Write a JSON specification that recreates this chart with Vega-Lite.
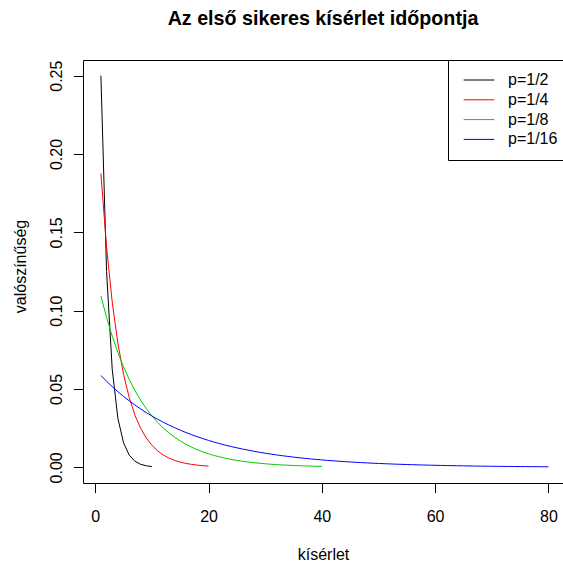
{
  "$schema": "https://vega.github.io/schema/vega-lite/v6.json",
  "autosize": {"type": "none"},
  "width": 480,
  "height": 423,
  "padding": {"left": 83, "top": 60, "right": 0, "bottom": 80},
  "background": "white",
  "config": {
    "font": "Liberation Sans",
    "view": {"stroke": "#000000", "strokeWidth": 1},
    "axis": {"grid": false, "domain": false, "tickColor": "#000000", "tickWidth": 1, "tickSize": 9.6, "labelFont": "Liberation Sans", "labelFontSize": 16, "labelColor": "#000000", "titleFont": "Liberation Sans", "titleFontSize": 16, "titleFontWeight": "normal", "titleColor": "#000000"}
  },
  "title": {"text": "Az első sikeres kísérlet időpontja", "font": "Liberation Sans", "fontSize": 19.7, "fontWeight": "bold", "color": "#000000", "anchor": "middle", "frame": "group", "baseline": "alphabetic", "offset": 14.5},
  "datasets": {
    "geo": [
      {"x":1,"y":0.25,"p":"p=1/2"},{"x":2,"y":0.125,"p":"p=1/2"},{"x":3,"y":0.0625,"p":"p=1/2"},{"x":4,"y":0.03125,"p":"p=1/2"},{"x":5,"y":0.015625,"p":"p=1/2"},{"x":6,"y":0.0078125,"p":"p=1/2"},{"x":7,"y":0.00390625,"p":"p=1/2"},{"x":8,"y":0.001953,"p":"p=1/2"},{"x":9,"y":0.000977,"p":"p=1/2"},{"x":10,"y":0.000488,"p":"p=1/2"},
      {"x":1,"y":0.1875,"p":"p=1/4"},{"x":2,"y":0.140625,"p":"p=1/4"},{"x":3,"y":0.10547,"p":"p=1/4"},{"x":4,"y":0.079102,"p":"p=1/4"},{"x":5,"y":0.059326,"p":"p=1/4"},{"x":6,"y":0.044495,"p":"p=1/4"},{"x":7,"y":0.033371,"p":"p=1/4"},{"x":8,"y":0.025028,"p":"p=1/4"},{"x":9,"y":0.018771,"p":"p=1/4"},{"x":10,"y":0.014078,"p":"p=1/4"},{"x":11,"y":0.010559,"p":"p=1/4"},{"x":12,"y":0.007919,"p":"p=1/4"},{"x":13,"y":0.005939,"p":"p=1/4"},{"x":14,"y":0.004454,"p":"p=1/4"},{"x":15,"y":0.003341,"p":"p=1/4"},{"x":16,"y":0.002506,"p":"p=1/4"},{"x":17,"y":0.001879,"p":"p=1/4"},{"x":18,"y":0.001409,"p":"p=1/4"},{"x":19,"y":0.001057,"p":"p=1/4"},{"x":20,"y":0.000793,"p":"p=1/4"},
      {"x":1,"y":0.109375,"p":"p=1/8"},{"x":2,"y":0.095703,"p":"p=1/8"},{"x":3,"y":0.08374,"p":"p=1/8"},{"x":4,"y":0.073273,"p":"p=1/8"},{"x":5,"y":0.064114,"p":"p=1/8"},{"x":6,"y":0.056099,"p":"p=1/8"},{"x":7,"y":0.049087,"p":"p=1/8"},{"x":8,"y":0.042951,"p":"p=1/8"},{"x":9,"y":0.037582,"p":"p=1/8"},{"x":10,"y":0.032884,"p":"p=1/8"},{"x":11,"y":0.028774,"p":"p=1/8"},{"x":12,"y":0.025177,"p":"p=1/8"},{"x":13,"y":0.02203,"p":"p=1/8"},{"x":14,"y":0.019276,"p":"p=1/8"},{"x":15,"y":0.016867,"p":"p=1/8"},{"x":16,"y":0.014758,"p":"p=1/8"},{"x":17,"y":0.012914,"p":"p=1/8"},{"x":18,"y":0.011299,"p":"p=1/8"},{"x":19,"y":0.009887,"p":"p=1/8"},{"x":20,"y":0.008651,"p":"p=1/8"},{"x":21,"y":0.00757,"p":"p=1/8"},{"x":22,"y":0.006623,"p":"p=1/8"},{"x":23,"y":0.005796,"p":"p=1/8"},{"x":24,"y":0.005071,"p":"p=1/8"},{"x":25,"y":0.004437,"p":"p=1/8"},{"x":26,"y":0.003883,"p":"p=1/8"},{"x":27,"y":0.003397,"p":"p=1/8"},{"x":28,"y":0.002973,"p":"p=1/8"},{"x":29,"y":0.002601,"p":"p=1/8"},{"x":30,"y":0.002276,"p":"p=1/8"},{"x":31,"y":0.001991,"p":"p=1/8"},{"x":32,"y":0.001742,"p":"p=1/8"},{"x":33,"y":0.001525,"p":"p=1/8"},{"x":34,"y":0.001334,"p":"p=1/8"},{"x":35,"y":0.001167,"p":"p=1/8"},{"x":36,"y":0.001021,"p":"p=1/8"},{"x":37,"y":0.000894,"p":"p=1/8"},{"x":38,"y":0.000782,"p":"p=1/8"},{"x":39,"y":0.000684,"p":"p=1/8"},{"x":40,"y":0.000599,"p":"p=1/8"},
      {"x":1,"y":0.058594,"p":"p=1/16"},{"x":2,"y":0.054932,"p":"p=1/16"},{"x":3,"y":0.051498,"p":"p=1/16"},{"x":4,"y":0.04828,"p":"p=1/16"},{"x":5,"y":0.045262,"p":"p=1/16"},{"x":6,"y":0.042433,"p":"p=1/16"},{"x":7,"y":0.039781,"p":"p=1/16"},{"x":8,"y":0.037295,"p":"p=1/16"},{"x":9,"y":0.034964,"p":"p=1/16"},{"x":10,"y":0.032779,"p":"p=1/16"},{"x":11,"y":0.03073,"p":"p=1/16"},{"x":12,"y":0.02881,"p":"p=1/16"},{"x":13,"y":0.027009,"p":"p=1/16"},{"x":14,"y":0.025321,"p":"p=1/16"},{"x":15,"y":0.023738,"p":"p=1/16"},{"x":16,"y":0.022255,"p":"p=1/16"},{"x":17,"y":0.020864,"p":"p=1/16"},{"x":18,"y":0.01956,"p":"p=1/16"},{"x":19,"y":0.018337,"p":"p=1/16"},{"x":20,"y":0.017191,"p":"p=1/16"},{"x":21,"y":0.016117,"p":"p=1/16"},{"x":22,"y":0.01511,"p":"p=1/16"},{"x":23,"y":0.014165,"p":"p=1/16"},{"x":24,"y":0.01328,"p":"p=1/16"},{"x":25,"y":0.01245,"p":"p=1/16"},{"x":26,"y":0.011672,"p":"p=1/16"},{"x":27,"y":0.010942,"p":"p=1/16"},{"x":28,"y":0.010258,"p":"p=1/16"},{"x":29,"y":0.009617,"p":"p=1/16"},{"x":30,"y":0.009016,"p":"p=1/16"},{"x":31,"y":0.008453,"p":"p=1/16"},{"x":32,"y":0.007924,"p":"p=1/16"},{"x":33,"y":0.007429,"p":"p=1/16"},{"x":34,"y":0.006965,"p":"p=1/16"},{"x":35,"y":0.00653,"p":"p=1/16"},{"x":36,"y":0.006121,"p":"p=1/16"},{"x":37,"y":0.005739,"p":"p=1/16"},{"x":38,"y":0.00538,"p":"p=1/16"},{"x":39,"y":0.005044,"p":"p=1/16"},{"x":40,"y":0.004729,"p":"p=1/16"},{"x":41,"y":0.004433,"p":"p=1/16"},{"x":42,"y":0.004156,"p":"p=1/16"},{"x":43,"y":0.003896,"p":"p=1/16"},{"x":44,"y":0.003653,"p":"p=1/16"},{"x":45,"y":0.003424,"p":"p=1/16"},{"x":46,"y":0.00321,"p":"p=1/16"},{"x":47,"y":0.00301,"p":"p=1/16"},{"x":48,"y":0.002822,"p":"p=1/16"},{"x":49,"y":0.002645,"p":"p=1/16"},{"x":50,"y":0.00248,"p":"p=1/16"},{"x":51,"y":0.002325,"p":"p=1/16"},{"x":52,"y":0.00218,"p":"p=1/16"},{"x":53,"y":0.002043,"p":"p=1/16"},{"x":54,"y":0.001916,"p":"p=1/16"},{"x":55,"y":0.001796,"p":"p=1/16"},{"x":56,"y":0.001684,"p":"p=1/16"},{"x":57,"y":0.001578,"p":"p=1/16"},{"x":58,"y":0.00148,"p":"p=1/16"},{"x":59,"y":0.001387,"p":"p=1/16"},{"x":60,"y":0.001301,"p":"p=1/16"},{"x":61,"y":0.001219,"p":"p=1/16"},{"x":62,"y":0.001143,"p":"p=1/16"},{"x":63,"y":0.001072,"p":"p=1/16"},{"x":64,"y":0.001005,"p":"p=1/16"},{"x":65,"y":0.000942,"p":"p=1/16"},{"x":66,"y":0.000883,"p":"p=1/16"},{"x":67,"y":0.000828,"p":"p=1/16"},{"x":68,"y":0.000776,"p":"p=1/16"},{"x":69,"y":0.000728,"p":"p=1/16"},{"x":70,"y":0.000682,"p":"p=1/16"},{"x":71,"y":0.000639,"p":"p=1/16"},{"x":72,"y":0.0006,"p":"p=1/16"},{"x":73,"y":0.000562,"p":"p=1/16"},{"x":74,"y":0.000527,"p":"p=1/16"},{"x":75,"y":0.000494,"p":"p=1/16"},{"x":76,"y":0.000463,"p":"p=1/16"},{"x":77,"y":0.000434,"p":"p=1/16"},{"x":78,"y":0.000407,"p":"p=1/16"},{"x":79,"y":0.000382,"p":"p=1/16"},{"x":80,"y":0.000358,"p":"p=1/16"}
    ]
  },
  "data": {"name": "geo"},
  "mark": {"type": "line", "strokeWidth": 1, "clip": true},
  "encoding": {
    "x": {"field": "x", "type": "quantitative", "scale": {"domain": [-2.16, 82.58], "nice": false, "zero": false},
      "axis": {"values": [0, 20, 40, 60, 80], "title": "kísérlet", "labelBaseline": "alphabetic", "labelPadding": 28.8, "titleBaseline": "alphabetic", "titleY": 76.7, "titleX": 240}},
    "y": {"field": "y", "type": "quantitative", "scale": {"domain": [-0.01, 0.26], "nice": false, "zero": false},
      "axis": {"values": [0, 0.05, 0.1, 0.15, 0.2, 0.25], "format": ".2f", "title": "valószínűség", "labelAngle": -90, "labelAlign": "center", "labelBaseline": "alphabetic", "labelPadding": 11.7, "titleAngle": -90, "titleBaseline": "alphabetic", "titleX": -58, "titleY": 206}},
    "color": {"field": "p", "type": "nominal",
      "scale": {"domain": ["p=1/2", "p=1/4", "p=1/8", "p=1/16"], "range": ["#000000", "#FF0000", "#00CD00", "#0000FF"]},
      "legend": {"title": null, "orient": "none", "legendX": 365, "legendY": 0, "symbolType": "stroke", "symbolSize": 940, "symbolStrokeWidth": 1, "symbolOffset": 3, "clipHeight": 16, "labelFont": "Liberation Sans", "labelFontSize": 16, "labelColor": "#000000", "labelOffset": 13, "rowPadding": 3.8, "padding": 12, "strokeColor": "#000000", "fillColor": "#FFFFFF", "labelLimit": 200}}
  }
}
